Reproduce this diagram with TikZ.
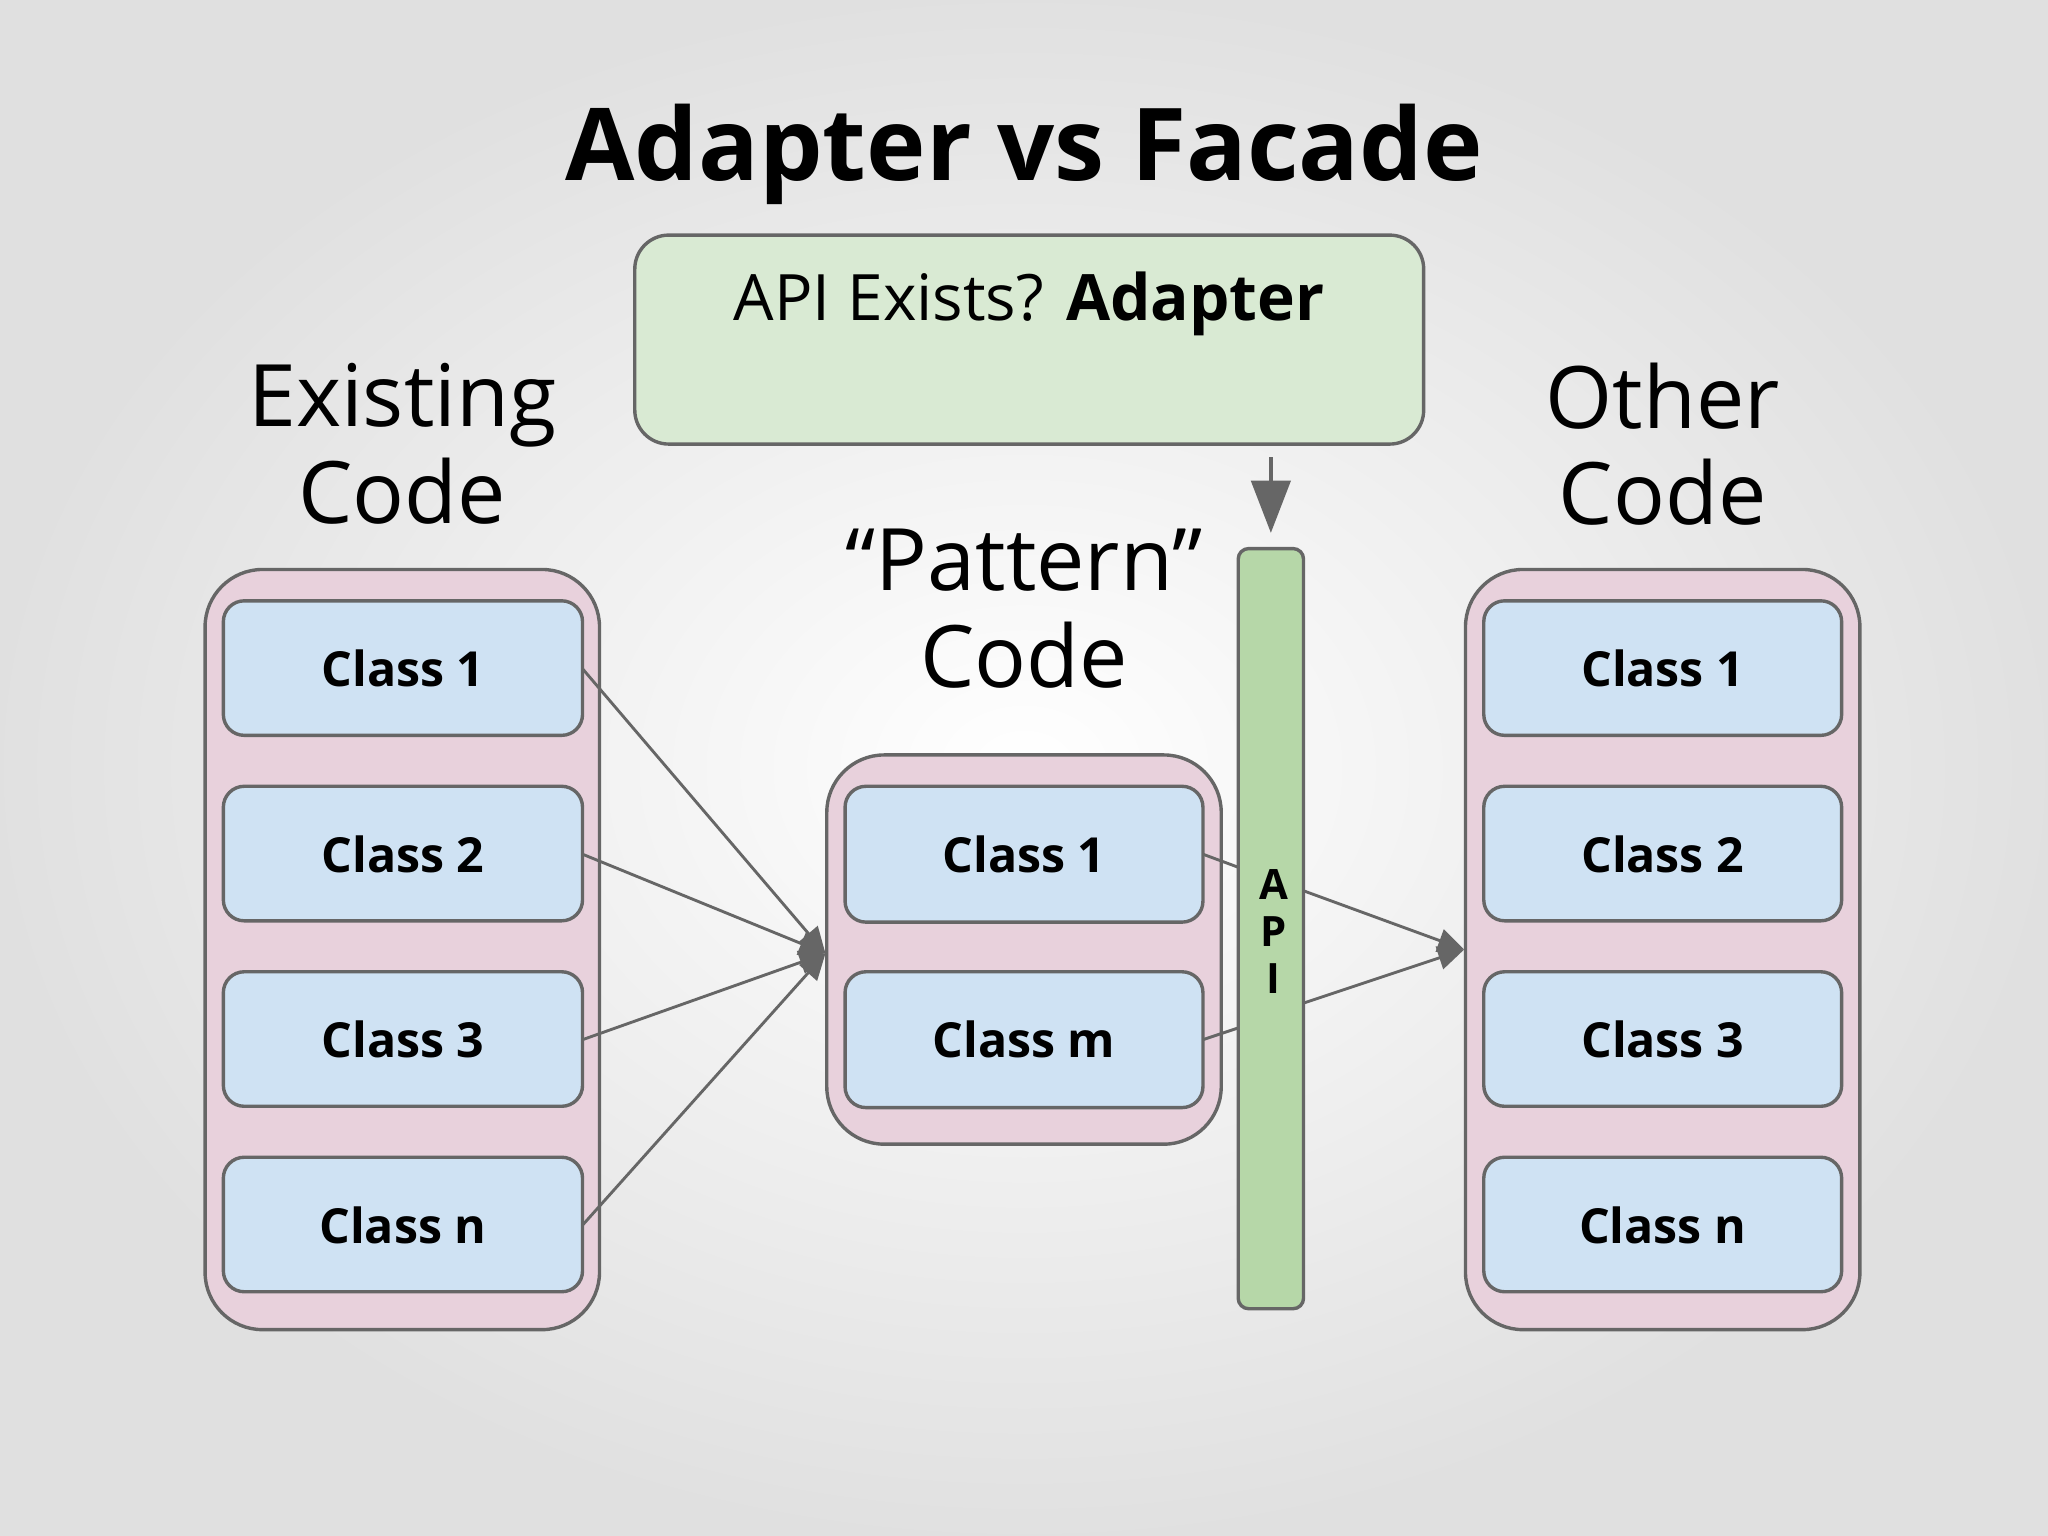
\documentclass[tikz,border=0pt]{standalone}
\usepackage{fontspec}
\setmainfont{Open Sans}
\usetikzlibrary{arrows.meta}
\definecolor{ln}{HTML}{666666}
\definecolor{pk}{HTML}{E8D1DC}
\definecolor{bl}{HTML}{CFE2F3}
\definecolor{gr}{HTML}{B6D7A8}
\definecolor{lg}{HTML}{D9EAD3}
\begin{document}
\begin{tikzpicture}[x=0.5pt,y=-0.5pt,
 cont/.style={draw=ln,line width=1.3pt,fill=pk,rounded corners=22pt},
 cls/.style={draw=ln,line width=1.3pt,fill=bl,rounded corners=8pt},
 lab/.style={font=\fontsize{18.5}{22}\selectfont\bfseries},
 big/.style={font=\fontsize{33}{37}\selectfont,align=center},
 con/.style={draw=ln,line width=1.1pt},
 arr/.style={con,-{Triangle[length=10pt,width=9pt]}}]
\shade[inner color=white,outer color=black!12] (0,0) rectangle (1568,1176);
\useasboundingbox (0,0) rectangle (1568,1176);
\node[font=\fontsize{38.5}{42}\selectfont\bfseries] (title) at (784,118) {Adapter vs Facade};
\draw[draw=ln,line width=1.3pt,fill=lg,rounded corners=13pt] (486,180) rectangle (1090,340);
\node[font=\fontsize{24.5}{30}\selectfont] (apiq) at (788,233) {API Exists? \textbf{Adapter}};
\node[big] (ex) at (308,340) {Existing\\Code};
\node[big] (ot) at (1273,340) {Other\\Code};
\node[big] (pa) at (784,466) {“Pattern”\\Code};
% containers
\draw[cont] (157,436) rectangle (459,1018);
\draw[cont] (633,578) rectangle (935,876);
\draw[cont] (1122,436) rectangle (1424,1018);
\foreach \y/\t [count=\i] in {460/Class 1,602/Class 2,744/Class 3,886/Class n}{
 \draw[cls] (171,\y) rectangle (446,\y+103);
 \node[lab] (L\i) at (308.5,\y+52) {\t};
 \coordinate (Le\i) at (446,\y+52);
 \draw[cls] (1136,\y) rectangle (1410,\y+103);
 \node[lab] (R\i) at (1273,\y+52) {\t};
}
\foreach \y/\t [count=\i] in {602/Class 1,744/Class m}{
 \draw[cls] (647,\y) rectangle (921,\y+104);
 \node[lab] (M\i) at (784,\y+52) {\t};
 \coordinate (Me\i) at (921,\y+52);
}
% API bar
\draw[draw=ln,line width=1.3pt,fill=gr,rounded corners=4pt] (948,420) rectangle (998,1002);
\node[font=\fontsize{16}{19}\selectfont\bfseries,align=center,inner sep=0] (api) at (975,713) {A\\[-1pt]P\\[-1pt]I};
\coordinate (top) at (973,350);
\coordinate (bar) at (973,408);
\draw[con,line width=1.5pt,-{Triangle[length=20pt,width=15pt]}] (top) -- (bar);
\coordinate (mt) at (632,730);
\foreach \i in {1,...,4} \draw[arr] (Le\i) -- (mt);
\coordinate (a1) at (948,664);
\coordinate (a2) at (948,787);
\draw[con] (Me1) -- (a1);
\draw[con] (Me2) -- (a2);
\coordinate (b1) at (998,682);
\coordinate (b2) at (998,768);
\coordinate (rt) at (1121,727);
\draw[arr] (b1) -- (rt);
\draw[arr] (b2) -- (rt);
\end{tikzpicture}
\end{document}
